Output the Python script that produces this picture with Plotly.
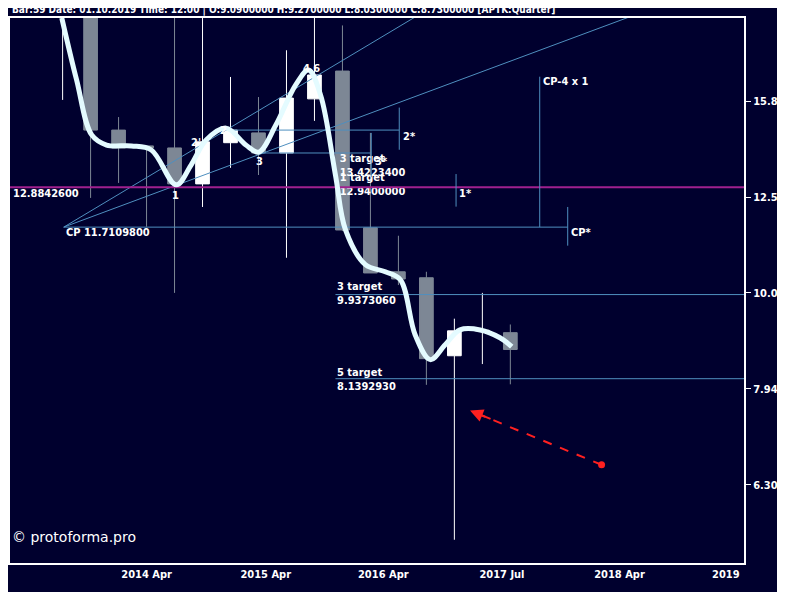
import numpy as np
import plotly.graph_objects as go

# quarter index (0 = 2014 Q1 candle)
idx   = [-3, -1, 0, 1, 2, 3, 4, 5, 6, 7, 8, 9, 10, 11, 12, 13, 14, 15]
opens = [19.6, 20.0, 20.5, 14.78, 14.23, 14.16, 12.99, 14.34, 14.68, 13.99, 15.93, 17.03, 11.69, 10.52, 10.37, 8.60, 9.13, 9.09]
highs = [20.0, 20.0, 21.0, 15.25, 14.23, 19.39, 19.39, 16.79, 16.00, 17.90, 19.39, 19.00, 14.68, 11.47, 10.52, 9.40, 10.00, 9.27]
lows  = [18.0, 15.89, 12.56, 13.02, 11.72, 10.00, 12.29, 13.50, 13.27, 10.88, 15.11, 11.60, 10.49, 10.19, 8.02, 5.53, 8.43, 8.03]
closes= [19.6, 20.0, 14.78, 14.16, 14.16, 12.99, 14.37, 14.78, 13.99, 15.96, 16.87, 11.63, 10.49, 10.34, 8.54, 9.13, 9.14, 8.73]

curve_x = [-1.03, -0.5, 0.04, 0.57, 1.46, 2.17, 3.06, 3.59, 4.13, 4.84, 5.55, 6.01, 6.62, 7.33, 7.79, 8.22,
           8.75, 9.11, 9.82, 10.53, 11.07, 11.6, 12.14, 12.67, 13.2, 13.92, 14.63, 15.05]
curve_y = [19.35, 16.67, 14.61, 14.26, 14.23, 14.09, 12.96, 13.59, 14.43, 14.85, 14.26, 14.02, 14.96, 16.47, 17.07, 16.07,
           13.27, 11.63, 10.70, 10.52, 10.32, 9.04, 8.52, 8.83, 9.15, 9.15, 8.98, 8.79]

tick_pos  = [-2.28, 2.0, 6.26, 10.46, 14.7, 18.9, 22.7]
tick_text = ["2013 Apr", "2014 Apr", "2015 Apr", "2016 Apr", "2017 Jul", "2018 Apr", "2019"]
ytick_vals = [6.309, 7.943, 10.0, 12.58, 15.84]
ytick_text = ["6.309", "7.943", "10.00", "12.58", "15.84"]

pivot_level = 12.88426
cp_level = 11.70980
cp_x = -0.96
target3 = 9.96
target5 = 8.139293

BG = "#00002e"
BLUE = "#4f8fbf"
FONT = "DejaVu Sans Condensed, Liberation Sans, sans-serif"

fig = go.Figure()

# labels that sit behind candles
fig.add_trace(go.Scatter(x=[8.9, 8.9], y=[13.55, 12.95], mode="text",
                         text=["<b>3 target<br>13.4223400</b>", "<b>1 target<br>12.9400000</b>"],
                         textposition="middle right", textfont=dict(color="white", size=11, family=FONT),
                         hoverinfo="skip", showlegend=False))

def seg(x, y, color=BLUE, width=1, dash=None):
    fig.add_trace(go.Scatter(x=x, y=y, mode="lines", line=dict(color=color, width=width, dash=dash),
                             hoverinfo="skip", showlegend=False))

seg([cp_x, 11.6], [cp_level, 19.39])
seg([cp_x, 19.25], [cp_level, 19.39])
seg([cp_x, 17.05], [cp_level, cp_level])
seg([4.66, 11.03], [14.78, 14.78])
seg([6.08, 10.03], [13.99, 13.99])
seg([8.75, 23.4], [target3, target3])
seg([8.75, 23.4], [target5, target5])
seg([-3.3, 23.4], [pivot_level, pivot_level], color="#a0208f", width=2)
seg([11.03, 11.03], [15.6, 14.1])
seg([10.03, 10.03], [14.68, 13.2])
seg([13.06, 13.06], [13.3, 12.3])
seg([16.05, 16.05], [16.8, 11.71])
seg([17.05, 17.05], [12.29, 11.2])

fig.add_trace(go.Candlestick(x=idx, open=opens, high=highs, low=lows, close=closes,
                             increasing=dict(line=dict(color="white", width=1), fillcolor="white"),
                             decreasing=dict(line=dict(color="#7d8795", width=1), fillcolor="#7d8795"),
                             whiskerwidth=0, hoverinfo="skip", showlegend=False))

fig.add_trace(go.Scatter(x=curve_x, y=curve_y, mode="lines", line=dict(color="#e4fbff", width=5, shape="spline"),
                         hoverinfo="skip", showlegend=False))

seg([18.26, 13.8], [6.62, 7.49], color="#ff2020", width=2, dash="dash")
fig.add_trace(go.Scatter(x=[18.26], y=[6.62], mode="markers", marker=dict(color="#ff2020", size=7),
                         hoverinfo="skip", showlegend=False))

ann = []
def txt(x, y, s, xanchor="left", size=11):
    ann.append(dict(x=x, y=np.log10(y), text="<b>" + s + "</b>", showarrow=False, xanchor=xanchor, yanchor="middle",
                    font=dict(color="white", size=size, family=FONT), align="left"))

txt(-0.96, 11.55, "CP 11.7109800")
txt(-2.85, 12.68, "12.8842600")
txt(3.05, 12.62, "1", "center")
txt(3.75, 14.35, "2'", "center")
txt(4.75, 14.75, "2", "center")
txt(6.05, 13.7, "3", "center")
txt(7.9, 17.15, "4 6", "center")
txt(11.08, 14.55, "2*")
txt(10.08, 13.7, "3*")
txt(13.1, 12.7, "1*")
txt(16.1, 16.6, "CP-4 x 1")
txt(17.1, 11.55, "CP*")
txt(8.75, 9.98, "3 target<br>9.9373060")
txt(8.75, 8.13, "5 target<br>8.1392930")
ann.append(dict(x=13.56, y=np.log10(7.54), ax=22, ay=9, axref="pixel", ayref="pixel", text="", showarrow=True,
                arrowhead=2, arrowsize=1.3, arrowwidth=2, arrowcolor="#ff2020"))
ann.append(dict(x=0.0, y=1.0, xref="paper", yref="paper", yanchor="bottom", xanchor="left", showarrow=False,
                text="<b>Bar:59 Date: 01.10.2019 Time: 12:00 | O:9.0900000 H:9.2700000 L:8.0300000 C:8.7300000 [APTK:Quarter]</b>",
                font=dict(color="white", size=10, family=FONT)))
ann.append(dict(x=0.0, y=0.03, xref="paper", yref="paper", yanchor="bottom", xanchor="left", showarrow=False,
                text="© protoforma.pro", font=dict(color="white", size=14, family="DejaVu Sans, sans-serif")))

fig.update_layout(
    width=777, height=584, paper_bgcolor=BG, plot_bgcolor=BG,
    margin=dict(l=0, r=40, t=10, b=29), showlegend=False, annotations=ann,
    xaxis=dict(range=[-2.88, 23.35], tickvals=tick_pos, ticktext=["<b>%s</b>" % t for t in tick_text],
               showgrid=False, zeroline=False,
               rangeslider=dict(visible=False), showline=True, linecolor="white", linewidth=2, mirror=True,
               ticks="", tickfont=dict(color="white", size=11, family=FONT)),
    yaxis=dict(type="log", range=[0.7185, 1.2865], side="right", tickvals=ytick_vals,
               ticktext=["<b>%s</b>" % t for t in ytick_text],
               showgrid=False, zeroline=False, showline=True, linecolor="white", linewidth=2, mirror=True,
               ticks="outside", ticklen=5, tickcolor="white", tickfont=dict(color="white", size=11, family=FONT)),
)
fig.write_html("out.html")
